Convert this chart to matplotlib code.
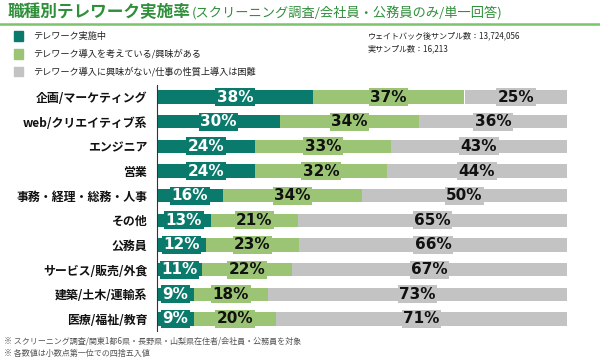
import matplotlib
matplotlib.use("Agg")
import matplotlib.pyplot as plt
import numpy as np

plt.rcParams['font.family'] = ['Noto Sans CJK JP', 'DejaVu Sans']

categories = ["企画/マーケティング", "web/クリエイティブ系", "エンジニア", "営業",
              "事務・経理・総務・人事", "その他", "公務員", "サービス/販売/外食",
              "建築/土木/運輸系", "医療/福祉/教育"]
doing = [38, 30, 24, 24, 16, 13, 12, 11, 9, 9]
considering = [37, 34, 33, 32, 34, 21, 23, 22, 18, 20]
not_interested = [25, 36, 43, 44, 50, 65, 66, 67, 73, 71]
series_names = ["テレワーク実施中", "テレワーク導入を考えている/興味がある",
                "テレワーク導入に興味がない/仕事の性質上導入は困難"]

colors = ["#0a7a6c", "#9bc574", "#c3c3c3"]
text_colors = ["white", "#111111", "#111111"]

fig = plt.figure(figsize=(6, 3.64), dpi=100)
ax = fig.add_axes([157/600, 1-331.3/364, 410/600, (331.3-84.7)/364])

data = np.array([doing, considering, not_interested], dtype=float)
totals = data.sum(axis=0)
shares = data / totals * 100  # rows drawn as 100% stacked

y = np.arange(len(categories))
left = np.zeros(len(categories))
for vals, widths, c, tc in zip(data, shares, colors, text_colors):
    ax.barh(y, widths, left=left, color=c, height=0.55, edgecolor='none')
    for yi, l, w, v in zip(y, left, widths, vals):
        ax.text(l + w/2, yi, f"{int(v)}%", ha='center', va='center',
                color=tc, fontsize=11, fontweight='bold', family='DejaVu Sans',
                bbox=dict(boxstyle='square,pad=0.1', facecolor=c, edgecolor='none'))
    left += widths

ax.set_xlim(0, 100)
ax.set_ylim(len(categories)-0.5, -0.5)
ax.set_yticks(y)
ax.set_yticklabels(categories, fontsize=8.6, fontweight='bold', color='#111111')
ax.tick_params(axis='y', length=0, pad=7)
ax.set_xticks([])
for s in ['top', 'right', 'bottom']:
    ax.spines[s].set_visible(False)
ax.spines['left'].set_linewidth(0.8)
ax.spines['left'].set_color('#333333')

# Title
fig.text(8/600, 1-12/364, "職種別テレワーク実施率", fontsize=12, fontweight='bold',
         color='#2f8f3a', va='center', ha='left')
fig.text(192/600, 1-13/364, "(スクリーニング調査/会社員・公務員のみ/単一回答)", fontsize=9.5,
         color='#2f8f3a', va='center', ha='left')
fig.add_artist(plt.Line2D([0, 1], [1-24/364, 1-24/364], color='#7cc46c', lw=1.8))

# Legend
for i, (name, c) in enumerate(zip(series_names, colors)):
    yc = 1 - (36 + i*18)/364
    fig.add_artist(plt.Rectangle((14/600, yc - 4.5/364), 9/600, 9/364, color=c,
                                 transform=fig.transFigure))
    fig.text(33/600, yc, name, fontsize=6.6, va='center', ha='left', color='#222222')

fig.text(368/600, 1-36/364, "ウェイトバック後サンプル数：13,724,056", fontsize=5.8,
         va='center', ha='left', color='#222222')
fig.text(368/600, 1-49/364, "実サンプル数：16,213", fontsize=5.8,
         va='center', ha='left', color='#222222')

fig.text(4/600, 1-341/364, "※ スクリーニング調査/関東1都6県・長野県・山梨県在住者/会社員・公務員を対象",
         fontsize=5.8, va='center', ha='left', color='#555555')
fig.text(4/600, 1-353/364, "※ 各数値は小数点第一位での四捨五入値",
         fontsize=5.8, va='center', ha='left', color='#555555')

fig.savefig("out.png", dpi=100)
